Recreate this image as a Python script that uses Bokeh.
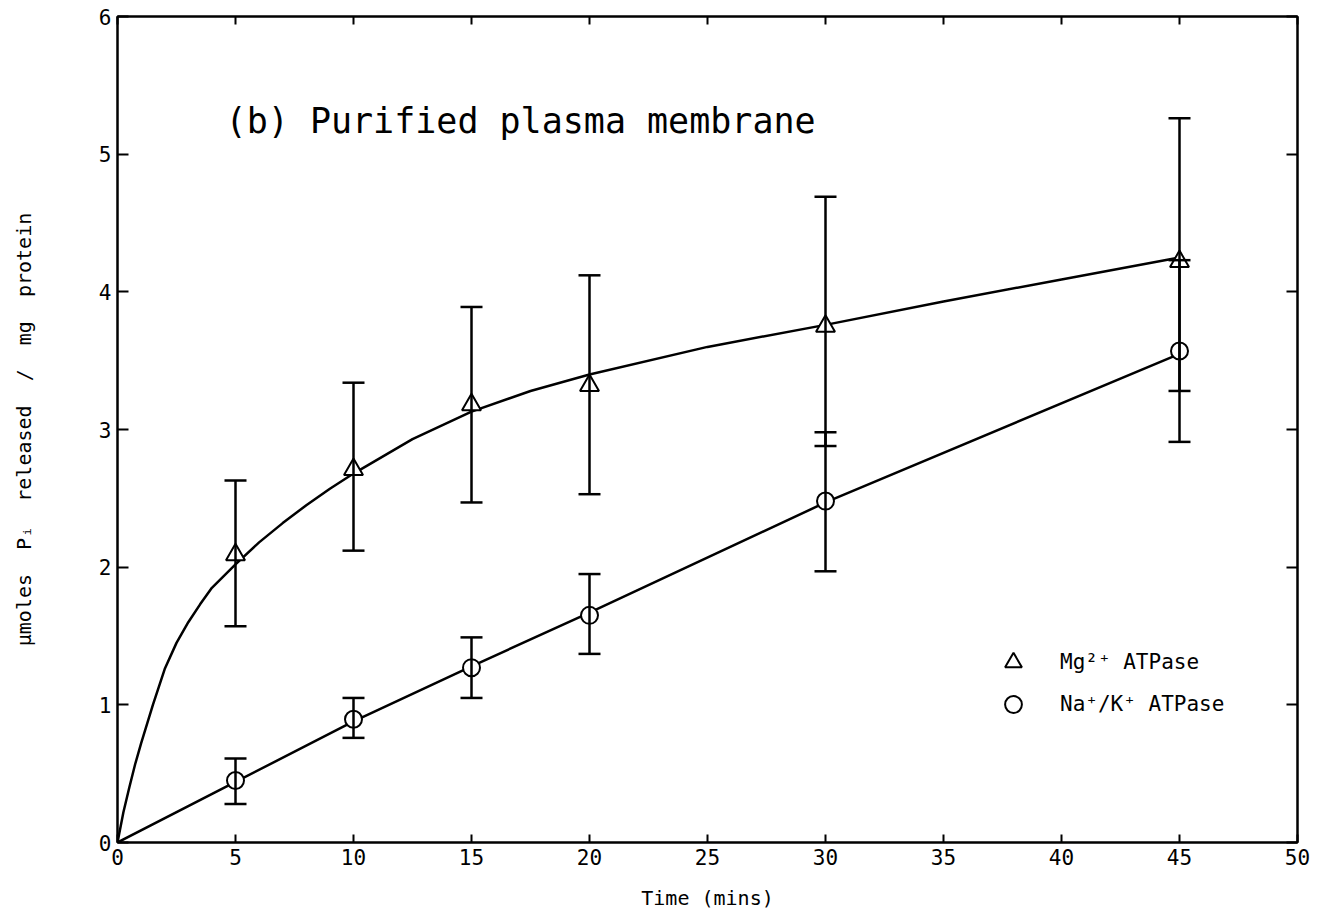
from bokeh.plotting import figure
from bokeh.models import (ColumnDataSource, Whisker, TeeHead, LinearAxis, Legend,
                          LegendItem, Label, FixedTicker, Range1d)
from bokeh.embed import file_html
from bokeh.resources import INLINE

# ---- data ----
time_pts = [5, 10, 15, 20, 30, 45]

mg_mean = [2.09, 2.71, 3.18, 3.32, 3.75, 4.22]
mg_upper = [2.63, 3.34, 3.89, 4.12, 4.69, 5.26]
mg_lower = [1.57, 2.12, 2.47, 2.53, 2.88, 3.28]

na_mean = [0.45, 0.895, 1.27, 1.65, 2.48, 3.57]
na_upper = [0.61, 1.05, 1.49, 1.95, 2.98, 4.23]
na_lower = [0.28, 0.76, 1.05, 1.37, 1.97, 2.91]

# fitted curves as drawn in the reference
mg_curve_x = [0, 0.25, 0.5, 0.75, 1, 1.5, 2, 2.5, 3, 3.5, 4, 5, 6, 7, 8, 9, 10,
              12.5, 15, 17.5, 20, 25, 30, 35, 40, 45]
mg_curve_y = [0, 0.22, 0.40, 0.57, 0.72, 1.00, 1.26, 1.45, 1.60, 1.73, 1.85, 2.02,
              2.18, 2.32, 2.45, 2.57, 2.68, 2.93, 3.13, 3.28, 3.40, 3.60, 3.76,
              3.93, 4.09, 4.25]
na_curve_x = [0, 5, 10, 15, 20, 30, 45]
na_curve_y = [0, 0.44, 0.88, 1.28, 1.67, 2.47, 3.55]

x_ticks = [0, 5, 10, 15, 20, 25, 30, 35, 40, 45, 50]
y_ticks = [0, 1, 2, 3, 4, 5, 6]

FONT = "DejaVu Sans Mono"
SP = "\u00a0"

p = figure(width=1318, height=912, output_backend="svg", toolbar_location=None,
           x_range=Range1d(0, 50), y_range=Range1d(0, 6),
           min_border_left=117, min_border_right=21, min_border_top=16, min_border_bottom=65,
           x_axis_label="Time" + SP + "(mins)",
           y_axis_label=SP.join(["µmoles", "", "Pᵢ", "", "released", "", "/", "", "mg", "", "protein"]))
p.xgrid.visible = False
p.ygrid.visible = False
p.outline_line_color = "black"
p.outline_line_width = 2
p.background_fill_color = "white"
p.border_fill_color = "white"

def style_axis(ax, ticks, tick_in, show_labels=True):
    ax.ticker = FixedTicker(ticks=ticks)
    ax.minor_tick_line_color = None
    ax.major_tick_in = tick_in
    ax.major_tick_out = 0
    ax.major_tick_line_width = 2
    ax.major_tick_line_color = "black"
    ax.axis_line_width = 2
    ax.axis_line_color = "black"
    ax.major_label_text_font = FONT
    ax.major_label_text_color = "black"
    ax.major_label_text_font_size = "21px"
    ax.major_label_standoff = 6
    ax.axis_label_text_font = FONT
    ax.axis_label_text_font_style = "normal"
    ax.axis_label_text_font_size = "20px"
    ax.axis_label_text_color = "black"
    if not show_labels:
        ax.major_label_text_font_size = "0px"
        ax.major_label_text_alpha = 0

style_axis(p.xaxis[0], x_ticks, 8)
style_axis(p.yaxis[0], y_ticks, 11)
p.xaxis[0].axis_label_standoff = 18
p.yaxis[0].axis_label_standoff = 60

top = LinearAxis()
style_axis(top, x_ticks, 8, show_labels=False)
p.add_layout(top, "above")
right = LinearAxis()
style_axis(right, y_ticks, 11, show_labels=False)
p.add_layout(right, "right")

# curves
p.line(mg_curve_x, mg_curve_y, line_color="black", line_width=2.5)
p.line(na_curve_x, na_curve_y, line_color="black", line_width=2.5)

# error bars
mg_src = ColumnDataSource(dict(x=time_pts, y=mg_mean, upper=mg_upper, lower=mg_lower))
na_src = ColumnDataSource(dict(x=time_pts, y=na_mean, upper=na_upper, lower=na_lower))
for src in (mg_src, na_src):
    w = Whisker(source=src, base="x", upper="upper", lower="lower",
                line_color="black", line_width=2.5,
                upper_head=TeeHead(size=22, line_width=2.5, line_color="black"),
                lower_head=TeeHead(size=22, line_width=2.5, line_color="black"),
                level="glyph")
    p.add_layout(w)

tri = p.scatter("x", "y", source=mg_src, marker="triangle", size=19,
                fill_color="white", line_color="black", line_width=2)
circ = p.scatter("x", "y", source=na_src, marker="circle", size=17,
                 fill_color="white", line_color="black", line_width=2)

# title label inside plot
p.add_layout(Label(x=4.58, y=5.24,
                   text="(b)" + SP + "Purified" + SP + "plasma" + SP + "membrane",
                   text_font=FONT, text_font_size="35px", text_color="black",
                   text_baseline="middle", text_align="left"))

legend = Legend(items=[LegendItem(label="Mg²⁺" + SP + "ATPase", renderers=[tri]),
                       LegendItem(label="Na⁺/K⁺" + SP + "ATPase", renderers=[circ])],
                location=(875, 117), padding=0, spacing=0,
                glyph_width=42, glyph_height=42, label_height=42,
                label_standoff=26, border_line_alpha=0, background_fill_alpha=0,
                label_text_font=FONT, label_text_font_size="21px", label_text_color="black")
p.add_layout(legend, "center")

open("out.html", "w").write(file_html(p, INLINE))
